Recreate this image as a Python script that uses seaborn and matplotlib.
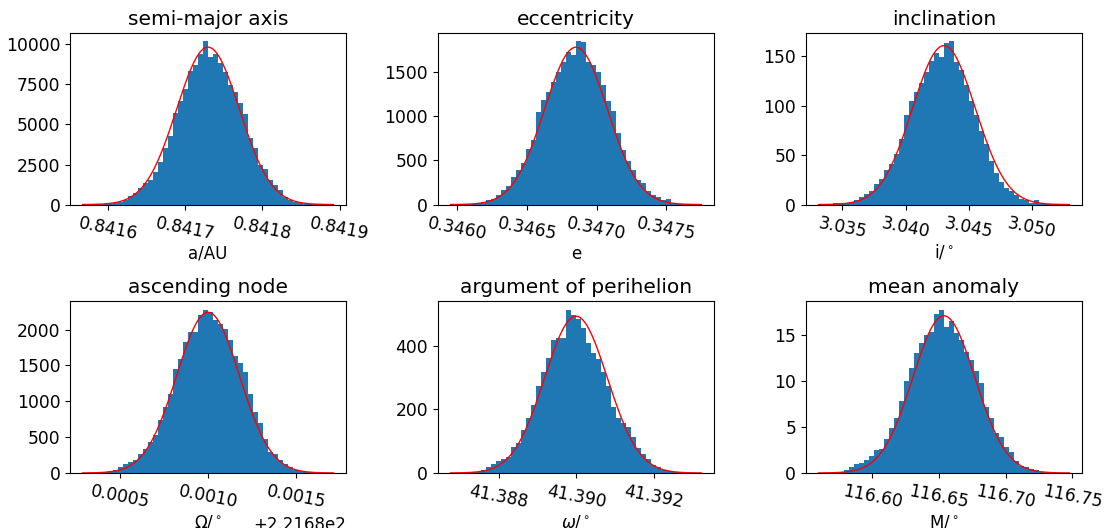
import numpy as np
import pandas as pd
import seaborn as sns
from matplotlib import pyplot as plt

# histogram heights (density), 50 bins each
a_dens = [0, 0, 3, 8, 15, 35, 70, 150, 315, 530, 740, 1010, 1330, 1540, 2060, 2630,
          3530, 4300, 5700, 6480, 7220, 8330, 8740, 9390, 10200, 9240, 9400, 8820, 8250, 7480,
          7040, 6360, 5630, 4160, 3530, 2480, 2200, 1530, 1220, 900, 480, 270, 150, 80, 40,
          20, 10, 5, 2, 0]
e_dens = [1, 2, 4, 8, 12, 19, 30, 50, 68, 106, 170, 208, 310, 390, 466, 630, 730, 1040,
          1175, 1273, 1387, 1500, 1610, 1717, 1687, 1842, 1830, 1610, 1573, 1490, 1350, 1167,
          1054, 807, 618, 497, 390, 277, 240, 152, 106, 87, 49, 61, 19, 10, 5, 3, 1, 1]
i_dens = [0.3, 0.7, 1, 1.5, 2, 2, 2.7, 4.4, 7.8, 11, 14, 21, 26, 35, 41, 51, 66, 90, 105,
          114, 123, 134, 145, 153, 149, 163, 165, 144, 136, 121, 105, 90, 74, 61, 44, 32, 23,
          17, 14, 10, 6, 4.4, 2, 5, 1.7, 1, 0.5, 0.3, 0.2, 0.1]
node_dens = [1, 2, 4, 8, 15, 23, 47, 84, 130, 160, 187, 262, 336, 430, 528, 738, 915, 1100,
             1452, 1588, 1826, 1966, 1966, 2209, 2279, 2246, 2139, 2078, 2008, 1859, 1625,
             1532, 1415, 1097, 855, 691, 472, 294, 262, 177, 121, 84, 47, 28, 15, 8, 4, 2, 1, 0]
peri_dens = [0.1, 0.3, 0.5, 1, 2, 3, 8, 19, 27, 37, 45, 50, 82, 95, 135, 172, 214, 274, 319,
             361, 419, 426, 426, 514, 498, 485, 456, 408, 377, 359, 319, 274, 209, 174, 156,
             145, 114, 77, 61, 43, 24, 19, 8, 5, 3, 2, 1, 0.5, 0.2, 0.1]
M_dens = [0.01, 0.02, 0.04, 0.08, 0.15, 0.3, 0.66, 0.95, 1.1, 1.4, 1.9, 2.5, 2.6, 3.65, 4.9,
          6.0, 7.8, 10.0, 11.4, 13.1, 14.2, 15.0, 15.4, 17.3, 17.8, 15.9, 16.6, 15.3, 14.5,
          13.2, 12.3, 11.1, 9.8, 7.2, 6.0, 4.4, 3.9, 2.8, 2.3, 1.3, 0.77, 0.66, 0.47, 0.3,
          0.1, 0.05, 0.03, 0.02, 0.01, 0.0]

# data range (min, max) of each sample and the fitted normal (mu, sigma)
ranges = [(0.8415673, 0.8418922), (0.345952, 0.347751), (3.03310, 3.05298),
          (221.680287, 221.681711), (41.386758, 41.393226), (116.5595, 116.74775)]
fits = [(0.84172975, 4.06e-5), (0.3468515, 2.249e-4), (3.04304, 2.485e-3),
        (221.680999, 1.78e-4), (41.389992, 8.09e-4), (116.6536, 0.0233)]

titles = ['semi-major axis', 'eccentricity', 'inclination',
          'ascending node', 'argument of perihelion', 'mean anomaly']
xlabels = ['a/AU', 'e', r'i/$^\circ$', r'$\Omega/^\circ$', r'$\omega/^\circ$', r'M/$^\circ$']
dens = [a_dens, e_dens, i_dens, node_dens, peri_dens, M_dens]

fig, axes = plt.subplots(2, 3, figsize=(11.04, 5.28), dpi=100)
plt.subplots_adjust(left=0.0634, right=0.98, top=0.9375, bottom=0.1042,
                    wspace=0.333, hspace=0.564)

for k, ax in enumerate(axes.flat):
    lo, hi = ranges[k]
    edges = np.linspace(lo, hi, 51)
    df = pd.DataFrame({'x': (edges[:-1] + edges[1:]) / 2, 'h': dens[k]})
    sns.histplot(data=df, x='x', weights='h', bins=50, binrange=(lo, hi), stat='count',
                 color='#1f77b4', alpha=1, linewidth=0, ax=ax)
    mu, sig = fits[k]
    xs = np.linspace(lo, hi, 300)
    pdf = np.exp(-0.5 * ((xs - mu) / sig) ** 2) / (sig * np.sqrt(2 * np.pi))
    sns.lineplot(x=xs, y=pdf, color='red', linewidth=1, ax=ax)
    ax.set_title(titles[k], fontsize=14.5)
    ax.set_xlabel(xlabels[k], fontsize=12, labelpad=1)
    ax.set_ylabel('')
    ax.tick_params(axis='both', labelsize=12.3)
    ax.tick_params(axis='x', labelrotation=-11)
    ax.xaxis.get_offset_text().set_fontsize(12)

plt.savefig('out.png', dpi=100)
